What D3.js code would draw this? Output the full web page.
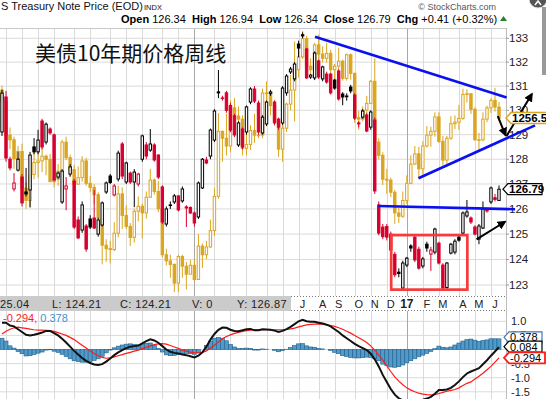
<!DOCTYPE html>
<html>
<head>
<meta charset="utf-8">
<script src="https://cdn.jsdelivr.net/npm/d3@7"></script>
<style>
  body { margin: 0; background: #fff; overflow: hidden; }
  svg { display: block; font-family: Arial, "Liberation Sans", sans-serif; }
  .pre { white-space: pre; }
</style>
</head>
<body>
<svg id="chart" width="546" height="399"></svg>
<script>
// weekly bars, Jan 30 2015 .. Jun 16 2017 : [open, high, low, close]
const priceBars = [
  [129.11,130.85,128.95,130.71],[130.55,130.8,127.9,128.05],[128.0,128.1,127.55,127.65],[126.8,127.44,126.7,127.04],
  [127.56,128.3,127.5,128.0],[127.28,127.4,126.1,126.24],[126.68,127.65,126.5,126.6],[126.76,128.3,126.07,128.17],
  [128.5,128.86,128.2,128.3],[128.3,129.2,128.2,128.78],[129.56,129.65,128.4,128.5],[128.7,129.5,128.6,129.43],
  [129.23,129.3,129.0,129.07],[128.99,129.05,127.1,127.16],[127.28,127.5,127.2,127.44],[126.28,127.6,126.2,127.52],
  [126.8,127.28,125.95,126.92],[127.4,127.8,127.3,127.69],[127.12,127.2,125.2,125.28],[125.56,125.7,124.8,124.85],
  [125.16,126.3,125.05,126.16],[125.32,125.4,124.3,124.41],[125.6,125.75,125.2,125.28],[125.64,126.76,125.2,125.24],
  [125.0,125.65,124.9,125.56],[125.36,126.3,125.3,126.24],[126.68,127.1,126.6,127.04],[127.32,127.4,127.0,127.06],
  [126.56,127.0,126.5,126.92],[127.2,128.35,127.1,128.25],[128.62,128.7,127.2,127.32],[127.08,127.9,127.0,127.85],
  [127.44,127.5,127.0,127.08],[127.08,127.6,126.07,127.48],[127.0,127.45,126.9,127.4],[128.0,129.0,127.9,128.95],
  [128.58,128.7,128.0,128.13],[128.37,129.23,128.3,128.62],[128.58,128.65,127.9,127.97],[128.17,128.2,127.2,127.28],
  [126.88,126.95,125.4,125.48],[125.4,126.1,125.3,126.0],[126.14,126.3,126.0,126.16],[126.28,126.6,126.2,126.52],
  [126.52,126.55,125.9,125.96],[126.32,126.9,126.25,126.8],[126.08,126.15,125.28,126.04],[126.06,126.1,125.8,125.84],
  [125.84,125.9,125.3,125.44],[125.68,127.1,125.6,127.04],[126.84,128.05,126.8,128.0],[127.97,128.1,127.8,127.85],
  [128.13,129.25,128.0,129.19],[128.78,130.05,128.7,129.97],[130.76,131.67,130.5,130.72],[130.5,130.6,130.4,130.51],
  [130.72,130.8,129.9,130.0],[130.2,130.3,129.1,129.19],[129.77,129.85,128.9,128.99],[128.58,129.55,128.5,129.48],
  [129.23,129.3,128.4,128.5],[129.11,130.2,129.0,130.14],[130.34,130.95,130.25,130.88],[130.88,131.0,130.3,130.38],
  [130.3,130.4,129.0,129.11],[129.07,129.8,129.0,129.72],[129.44,130.4,129.35,130.34],[130.7,130.85,130.6,130.76],
  [130.34,130.4,129.4,129.48],[129.64,129.7,129.2,129.31],[129.48,131.0,129.4,130.92],[130.72,131.5,130.6,131.42],
  [131.59,131.8,131.5,131.71],[131.3,132.0,131.2,131.92],[132.76,132.9,132.2,132.59],[133.15,133.25,133.0,133.1],
  [132.55,132.6,131.3,131.34],[131.38,131.5,131.3,131.46],[131.34,132.45,131.25,132.38],[132.05,132.1,131.3,131.38],
  [131.3,131.85,131.2,131.8],[131.5,131.6,131.1,131.17],[131.5,131.55,130.65,130.72],[131.25,131.3,130.85,130.92],
  [131.63,131.7,130.4,130.47],[130.67,130.75,130.21,130.55],[130.56,130.7,130.4,130.59],[130.96,131.05,130.7,130.8],
  [130.63,130.7,129.6,129.68],[129.48,129.55,129.3,129.44],[129.72,130.05,129.65,129.97],[129.81,129.9,129.1,129.15],
  [129.31,130.0,129.2,129.93],[129.6,129.7,126.6,126.72],[126.16,126.3,124.95,125.04],[125.28,125.4,124.8,124.9],
  [125.3,125.4,124.75,124.88],[125.0,125.1,124.3,124.37],[124.2,124.3,123.3,123.4],[123.5,123.65,123.3,123.45],
  [122.88,123.95,122.8,123.86],[123.78,124.1,123.7,124.05],[124.53,124.6,124.3,124.45],[124.88,124.95,123.9,123.98],
  [124.4,124.5,123.6,123.66],[123.74,124.1,123.65,124.02],[124.6,124.7,124.3,124.45],[124.21,124.5,123.55,124.37],
  [124.29,125.25,124.2,125.2],[124.64,124.7,123.8,123.86],[123.78,123.85,122.85,122.88],[122.9,123.9,122.85,123.86],
  [124.25,124.65,124.2,124.6],[124.29,124.8,124.2,124.72],[124.88,125.0,124.7,124.76],[125.04,125.9,124.95,125.84],
  [125.72,126.36,125.65,125.88],[125.64,125.7,125.4,125.48],[125.28,125.35,124.95,125.0],[124.8,125.4,124.6,125.32],
  [125.24,126.3,125.2,126.0],[126.0,126.05,125.85,125.92],[126.28,126.9,126.2,126.84],[126.45,126.6,126.3,126.38],
  [126.34,126.94,126.34,126.79]
];

// gold overlay, same weeks : [open, high, low, close]
const goldBars = [
  [1294,1300,1251,1279],[1279,1285,1232,1234],[1234,1244,1216,1228],[1228,1232,1191,1204],[1204,1220,1193,1213],
  [1213,1223,1165,1167],[1167,1174,1142,1152],[1152,1187,1143,1184],[1184,1220,1178,1199],[1199,1223,1180,1201],
  [1201,1224,1187,1207],[1207,1209,1183,1203],[1203,1210,1175,1175],[1175,1215,1168,1178],[1178,1197,1170,1188],
  [1188,1228,1185,1225],[1225,1232,1202,1205],[1205,1209,1181,1190],[1190,1196,1162,1172],[1172,1194,1171,1180],
  [1180,1207,1175,1201],[1201,1205,1170,1173],[1173,1182,1162,1168],[1168,1172,1148,1159],[1159,1162,1130,1131],
  [1131,1133,1077,1099],[1099,1106,1080,1095],[1095,1104,1078,1094],[1094,1126,1092,1113],[1113,1170,1108,1160],
  [1160,1168,1118,1134],[1134,1146,1118,1121],[1121,1125,1098,1108],[1108,1142,1102,1139],[1139,1157,1127,1145],
  [1145,1148,1107,1137],[1137,1163,1130,1156],[1156,1191,1155,1177],[1177,1179,1159,1163],[1163,1176,1138,1142],
  [1142,1143,1085,1088],[1088,1095,1076,1081],[1081,1088,1062,1077],[1077,1078,1046,1056],[1056,1088,1046,1086],
  [1086,1088,1062,1075],[1075,1080,1049,1066],[1066,1082,1066,1076],[1076,1082,1058,1060],[1060,1112,1060,1098],
  [1098,1101,1073,1088],[1088,1104,1083,1097],[1097,1129,1096,1116],[1116,1167,1110,1157],[1157,1263,1154,1239],
  [1239,1240,1200,1230],[1230,1262,1208,1220],[1220,1280,1212,1270],[1270,1283,1239,1259],[1259,1272,1226,1255],
  [1255,1260,1208,1217],[1217,1244,1208,1222],[1222,1247,1215,1240],[1240,1262,1224,1234],[1234,1272,1230,1234],
  [1234,1296,1230,1290],[1290,1306,1270,1290],[1290,1291,1260,1273],[1273,1281,1246,1252],[1252,1254,1206,1216],
  [1216,1248,1200,1243],[1243,1277,1238,1275],[1275,1315,1267,1294],[1294,1362,1252,1322],[1322,1353,1311,1340],
  [1340,1377,1337,1366],[1366,1370,1313,1327],[1327,1338,1310,1322],[1322,1360,1311,1357],[1357,1372,1334,1344],
  [1344,1355,1332,1338],[1338,1360,1332,1345],[1345,1350,1315,1322],[1322,1330,1302,1327],[1327,1353,1322,1334],
  [1334,1336,1307,1310],[1310,1345,1307,1343],[1343,1345,1308,1317],[1317,1318,1250,1257],[1257,1266,1241,1255],
  [1255,1272,1252,1267],[1267,1286,1263,1276],[1276,1308,1275,1306],[1306,1338,1220,1225],[1225,1230,1203,1208],
  [1208,1212,1171,1178],[1178,1191,1160,1177],[1177,1180,1156,1162],[1162,1165,1124,1137],[1137,1143,1125,1133],
  [1133,1163,1131,1152],[1152,1183,1148,1173],[1173,1208,1172,1197],[1197,1220,1196,1210],[1210,1219,1180,1191],
  [1191,1226,1184,1220],[1220,1246,1218,1234],[1234,1245,1219,1239],[1239,1264,1232,1258],[1258,1264,1224,1226],
  [1226,1233,1195,1202],[1202,1233,1197,1230],[1230,1259,1228,1249],[1249,1260,1242,1251],[1251,1274,1241,1256],
  [1256,1296,1254,1288],[1288,1295,1277,1289],[1289,1290,1262,1268],[1268,1271,1227,1228],[1228,1237,1214,1228],
  [1228,1264,1226,1255],[1255,1273,1251,1270],[1270,1283,1263,1280],[1280,1297,1265,1271],[1271,1278,1252,1256.5]
];

const macdLine = [
  0.95,0.95,0.85,0.82,0.72,0.62,0.52,0.50,0.52,0.56,0.60,0.66,0.66,0.58,0.50,0.38,0.25,0.10,-0.05,-0.18,
  -0.30,-0.40,-0.48,-0.53,-0.55,-0.52,-0.43,-0.32,-0.20,-0.10,-0.02,0.05,0.10,0.12,0.14,0.22,0.30,0.36,0.32,0.24,
  0.12,0.00,-0.08,-0.12,-0.14,-0.18,-0.20,-0.24,-0.28,-0.22,-0.10,0.10,0.35,0.55,0.70,0.78,0.77,0.70,0.66,0.65,
  0.68,0.72,0.73,0.68,0.68,0.72,0.71,0.70,0.67,0.62,0.66,0.72,0.80,0.90,1.00,1.05,1.00,0.98,0.98,0.95,
  0.92,0.88,0.82,0.72,0.62,0.50,0.40,0.30,0.20,0.12,0.05,-0.02,-0.15,-0.35,-0.60,-0.90,-1.15,-1.40,-1.60,-1.73,
  -1.80,-1.83,-1.84,-1.83,-1.81,-1.78,-1.74,-1.68,-1.57,-1.44,-1.44,-1.42,-1.36,-1.26,-1.13,-0.98,-0.85,-0.78,-0.72,-0.66,
  -0.52,-0.38,-0.22,-0.07,0.084
];
const signalLine = [
  0.55,0.65,0.72,0.77,0.79,0.77,0.75,0.72,0.70,0.69,0.69,0.68,0.67,0.64,0.60,0.55,0.50,0.43,0.35,0.25,
  0.15,0.05,-0.05,-0.14,-0.22,-0.28,-0.31,-0.30,-0.26,-0.22,-0.18,-0.14,-0.10,-0.06,-0.02,0.03,0.08,0.13,0.17,0.20,
  0.21,0.19,0.14,0.09,0.04,-0.02,-0.06,-0.09,-0.11,-0.12,-0.10,-0.05,0.05,0.15,0.27,0.38,0.46,0.52,0.57,0.61,
  0.64,0.67,0.69,0.70,0.70,0.70,0.70,0.70,0.70,0.70,0.70,0.71,0.73,0.76,0.80,0.84,0.87,0.89,0.90,0.91,
  0.90,0.88,0.85,0.82,0.77,0.72,0.65,0.58,0.50,0.42,0.34,0.25,0.13,-0.02,-0.20,-0.38,-0.58,-0.78,-0.97,-1.12,
  -1.25,-1.36,-1.44,-1.50,-1.55,-1.58,-1.60,-1.61,-1.60,-1.56,-1.52,-1.48,-1.45,-1.42,-1.36,-1.28,-1.20,-1.15,-1.05,-0.95,
  -0.84,-0.72,-0.60,-0.45,-0.294
];
const macdHist = [
  0.40,0.30,0.13,0.05,-0.07,-0.15,-0.23,-0.22,-0.18,-0.13,-0.09,-0.02,-0.01,-0.06,-0.10,-0.17,-0.25,-0.33,-0.40,-0.43,
  -0.45,-0.45,-0.43,-0.39,-0.33,-0.24,-0.12,-0.02,0.06,0.12,0.16,0.19,0.20,0.18,0.16,0.19,0.22,0.23,0.15,0.04,
  -0.09,-0.19,-0.22,-0.21,-0.18,-0.16,-0.14,-0.15,-0.17,-0.10,0.00,0.15,0.30,0.40,0.43,0.40,0.31,0.18,0.09,0.04,
  0.04,0.05,0.04,-0.02,-0.02,0.02,0.01,0.00,-0.03,-0.08,-0.04,0.01,0.07,0.14,0.20,0.21,0.13,0.09,0.08,0.04,
  0.02,0.00,-0.03,-0.10,-0.15,-0.22,-0.25,-0.28,-0.30,-0.30,-0.29,-0.27,-0.28,-0.33,-0.40,-0.52,-0.57,-0.62,-0.63,-0.61,
  -0.55,-0.47,-0.40,-0.33,-0.26,-0.20,-0.14,-0.07,0.03,0.12,0.08,0.06,0.09,0.16,0.23,0.30,0.35,0.37,0.33,0.29,
  0.32,0.34,0.38,0.38,0.378
];

const priceTicks = [123,124,125,126,127,128,129,130,131,132,133];
const macdTicks = [1, 0.5, 0, -0.5, -1, -1.5, -2];
const monthStarts = [1,5,9,13,18,22,27,31,35,40,44,48,53,57,61,66,70,74,79,83,88,92,96,101,105,109,114,118,122];
const yearStarts = [48, 101];
const axisLabels = ["J","A","S","O","N","D","17","F","M","A","M","J"];
const axisLabelBars = [74,79,83,88,92,96,101,105,109,114,118,122];

// hand-drawn annotations, in [bar index, price]
const blueLines = [
  [[78.1,133.07],[125.9,130.53]],
  [[103.9,127.23],[133.0,129.38]],
  [[93.9,126.12],[128.0,125.99]]
];
const arrowLines = [
  [[125.9,128.95],[132.2,130.67]],
  [[123.7,129.76],[125.6,128.98]],
  [[118.4,124.79],[125.5,125.49]]
];
const redBox = [[97.1,124.96],[116.1,122.82]];

const svg = d3.select("#chart");
const FONT = 'Arial, "Liberation Sans", sans-serif';

const x = d3.scaleLinear().domain([0, 124]).range([2, 499]);
const y = d3.scaleLog().domain([123, 133]).range([285, 38.3]);
const yGold = d3.scaleLog().domain([1040, 1400]).range([297.6, 15.3]);
const yMacd = d3.scaleLinear().domain([-2, 1]).range([405.9, 321.3]);

const plotRight = 506, priceTop = 28, priceBottom = 296, macdTop = 311, macdBottom = 399;

svg.append("defs").append("clipPath").attr("id", "pclip")
  .append("rect").attr("x", 0).attr("y", priceTop).attr("width", plotRight).attr("height", priceBottom - priceTop);
svg.select("defs").append("clipPath").attr("id", "mclip")
  .append("rect").attr("x", 0).attr("y", macdTop).attr("width", plotRight).attr("height", macdBottom - macdTop);
svg.select("defs").append("marker").attr("id", "ahead")
  .attr("viewBox", "0 0 10 10").attr("refX", 8).attr("refY", 5)
  .attr("markerWidth", 4.5).attr("markerHeight", 4.5).attr("orient", "auto")
  .append("path").attr("d", "M0,0 L10,5 L0,10 Z").attr("fill", "#000");

// ---- grids
const grid = svg.append("g");
grid.selectAll(".hg").data(priceTicks).join("line")
  .attr("x1", 0).attr("x2", plotRight).attr("y1", d => y(d)).attr("y2", d => y(d))
  .attr("stroke", "#dadada").attr("stroke-width", 1);
grid.selectAll(".mg").data(macdTicks).join("line")
  .attr("x1", 0).attr("x2", plotRight).attr("y1", d => yMacd(d)).attr("y2", d => yMacd(d))
  .attr("stroke", "#dadada").attr("stroke-width", 1);
[[priceTop, priceBottom], [macdTop, macdBottom]].forEach(([t, b]) => {
  grid.append("g").selectAll("line").data(monthStarts).join("line")
    .attr("x1", d => Math.round(x(d)) + 0.5).attr("x2", d => Math.round(x(d)) + 0.5)
    .attr("y1", t).attr("y2", b)
    .attr("stroke", d => yearStarts.includes(d) ? "#a8a8a8" : "#dadada");
});
svg.append("line").attr("x1", 0).attr("x2", plotRight).attr("y1", priceTop + 0.5).attr("y2", priceTop + 0.5).attr("stroke", "#c8c8c8");
svg.append("line").attr("x1", plotRight + 0.5).attr("x2", plotRight + 0.5).attr("y1", priceTop).attr("y2", macdBottom).attr("stroke", "#bdbdbd");

// ---- candles
function drawCandles(g, bars, ys, colorOf) {
  const w = 2.4;
  bars.forEach((b, i) => {
    const [o, h, l, c] = b;
    const col = colorOf(b, i);
    const cx = x(i);
    g.append("line").attr("x1", cx).attr("x2", cx).attr("y1", ys(h)).attr("y2", ys(l))
      .attr("stroke", col).attr("stroke-width", 1);
    const top = ys(Math.max(o, c)), bot = ys(Math.min(o, c));
    g.append("rect").attr("x", cx - w / 2).attr("y", top)
      .attr("width", w).attr("height", Math.max(bot - top, 0.6))
      .attr("fill", c > o ? "#fff" : col).attr("stroke", col).attr("stroke-width", 1);
  });
}
const goldG = svg.append("g").attr("clip-path", "url(#pclip)");
drawCandles(goldG, goldBars, yGold, () => "#daa520");
const priceG = svg.append("g").attr("clip-path", "url(#pclip)");
drawCandles(priceG, priceBars, y, (b, i) => (i === 0 || b[3] >= priceBars[i - 1][3]) ? "#000" : "#d6002f");

// ---- right axis
svg.append("g").selectAll("text").data(priceTicks).join("text")
  .attr("x", 509).attr("y", d => y(d) + 4).text(d => d)
  .attr("font-family", FONT).attr("font-size", 11.5).attr("fill", "#222");
svg.append("g").selectAll("line").data(priceTicks).join("line")
  .attr("x1", plotRight).attr("x2", plotRight + 3).attr("y1", d => y(d)).attr("y2", d => y(d)).attr("stroke", "#999");

// ---- title block
svg.append("text").attr("x", 1).attr("y", 10).attr("font-family", FONT).attr("font-size", 11).attr("fill", "#111")
  .text("S Treasury Note Price (EOD)");
svg.append("text").attr("x", 144).attr("y", 10).attr("font-family", FONT).attr("font-size", 7.5).attr("fill", "#111")
  .text("INDX");
svg.append("text").attr("x", 496).attr("y", 10).attr("text-anchor", "end").attr("font-family", FONT)
  .attr("font-size", 9).attr("fill", "#555").text("© StockCharts.com");
const hdr = svg.append("text").attr("class", "pre").attr("x", 121).attr("y", 23)
  .attr("font-family", FONT).attr("font-size", 11).attr("fill", "#000");
[["Open", " 126.34  "], ["High", " 126.94  "], ["Low", " 126.34  "], ["Close", " 126.79  "], ["Chg", " +0.41 (+0.32%)"]]
  .forEach(([k, v]) => {
    hdr.append("tspan").attr("font-weight", "bold").text(k);
    hdr.append("tspan").text(v);
  });
svg.append("path").attr("d", "M500,21 L503.5,16 L507,21 Z").attr("fill", "#2e7d32");
svg.append("circle").attr("cx", 538).attr("cy", -1).attr("r", 9).attr("fill", "#555").attr("stroke", "#ddd").attr("stroke-width", 1);
svg.append("path").attr("d", "M535,5 L538,1 L541,5").attr("fill", "none").attr("stroke", "#fff").attr("stroke-width", 1.5);
svg.append("rect").attr("x", 542).attr("y", 7).attr("width", 4).attr("height", 68).attr("fill", "#9a9a9a");

svg.append("text").attr("x", 35).attr("y", 61).attr("font-family", '"Noto Sans CJK SC", sans-serif')
  .attr("font-size", 21).attr("fill", "#111").text("美债10年期价格周线");

// ---- annotations
const ann = svg.append("g");
blueLines.forEach(seg => {
  ann.append("line").attr("x1", x(seg[0][0])).attr("y1", y(seg[0][1]))
    .attr("x2", x(seg[1][0])).attr("y2", y(seg[1][1]))
    .attr("stroke", "#0a10f0").attr("stroke-width", 2.6);
});
arrowLines.forEach(seg => {
  ann.append("line").attr("x1", x(seg[0][0])).attr("y1", y(seg[0][1]))
    .attr("x2", x(seg[1][0])).attr("y2", y(seg[1][1]))
    .attr("stroke", "#000").attr("stroke-width", 2).attr("marker-end", "url(#ahead)");
});
ann.append("rect").attr("x", x(redBox[0][0])).attr("y", y(redBox[0][1]))
  .attr("width", x(redBox[1][0]) - x(redBox[0][0])).attr("height", y(redBox[1][1]) - y(redBox[0][1]))
  .attr("fill", "none").attr("stroke", "#f53b3b").attr("stroke-width", 2.7);

// ---- value tags
function tag(px, py, w, label, stroke, bold, sw) {
  const h = 11;
  svg.append("path")
    .attr("d", `M${px},${py} L${px + 5},${py - h / 2} L${px + w},${py - h / 2} L${px + w},${py + h / 2} L${px + 5},${py + h / 2} Z`)
    .attr("fill", "#fff").attr("stroke", stroke).attr("stroke-width", sw || 1.2);
  svg.append("text").attr("x", px + 6).attr("y", py + 4).attr("font-family", FONT)
    .attr("font-size", bold ? 11.5 : 11).attr("font-weight", bold ? "bold" : "normal")
    .attr("fill", "#000").text(label);
}
const lastGold = goldBars[goldBars.length - 1][3];
const lastPrice = priceBars[priceBars.length - 1][3];
tag(506, yGold(lastGold), 42, lastGold.toFixed(2), "#daa520", true, 1.5);
tag(503, y(lastPrice), 39, lastPrice.toFixed(2), "#000", true, 1.2);

// ---- info bar + date axis
svg.append("rect").attr("x", 0).attr("y", priceBottom).attr("width", 291).attr("height", 15).attr("fill", "#cbcbcb");
[["25.04", 0], ["L: 124.21", 52], ["C: 124.21", 120], ["V: 0", 192], ["Y: 126.87", 237]].forEach(([t, px]) => {
  svg.append("text").attr("x", px).attr("y", 308).attr("font-family", FONT).attr("font-size", 11)
    .attr("letter-spacing", 0.4).attr("fill", "#222").text(t);
});
[priceBottom + 0.5, macdTop - 0.5].forEach(py => {
  svg.append("line").attr("x1", 291).attr("x2", plotRight).attr("y1", py).attr("y2", py)
    .attr("stroke", "#777").attr("stroke-dasharray", "1,2");
});
svg.append("g").selectAll("text").data(axisLabels).join("text")
  .attr("x", (d, i) => x(axisLabelBars[i]) + (d === "17" ? 0 : 4)).attr("y", 308)
  .attr("text-anchor", "middle").attr("font-family", FONT)
  .attr("font-size", d => d === "17" ? 12 : 11).attr("font-weight", d => d === "17" ? "bold" : "normal")
  .attr("fill", "#222").text(d => d);

// ---- MACD panel
const mg = svg.append("g").attr("clip-path", "url(#mclip)");
const step = x(1) - x(0);
mg.selectAll(".hb").data(macdHist).join("rect")
  .attr("x", (d, i) => x(i) - step / 2).attr("width", step)
  .attr("y", d => Math.min(yMacd(0), yMacd(d))).attr("height", d => Math.abs(yMacd(d) - yMacd(0)))
  .attr("fill", "#4f9bcc").attr("stroke", "#235f8a").attr("stroke-width", 0.6);
const lineGen = d3.line().x((d, i) => x(i)).y(d => yMacd(d));
mg.append("path").datum(signalLine).attr("d", lineGen).attr("fill", "none").attr("stroke", "#ff1a1a").attr("stroke-width", 1.2);
mg.append("path").datum(macdLine).attr("d", lineGen).attr("fill", "none").attr("stroke", "#111").attr("stroke-width", 2);

svg.append("g").selectAll("text").data(macdTicks).join("text")
  .attr("x", 511).attr("y", d => yMacd(d) + 4).attr("font-family", FONT).attr("font-size", 11)
  .attr("fill", "#222").text(d => d.toFixed(1));

const legend = svg.append("text").attr("class", "pre").attr("x", 3).attr("y", 322)
  .attr("font-family", FONT).attr("font-size", 11);
legend.append("tspan").attr("fill", "#ff1a1a").text("-0.294, ");
legend.append("tspan").attr("fill", "#3a94d0").text("0.378");

const lastHist = macdHist[macdHist.length - 1];
const lastMacd = macdLine[macdLine.length - 1];
const lastSignal = signalLine[signalLine.length - 1];
tag(504, yMacd(lastHist) - 1.5, 38, lastHist.toFixed(3), "#3d78b8", false, 1.2);
tag(504, yMacd(lastMacd) - 0.5, 38, lastMacd.toFixed(3), "#000", false, 1.2);
tag(504, yMacd(lastSignal), 41, lastSignal.toFixed(3), "#ff1a1a", false, 1.8);
</script>
</body>
</html>
